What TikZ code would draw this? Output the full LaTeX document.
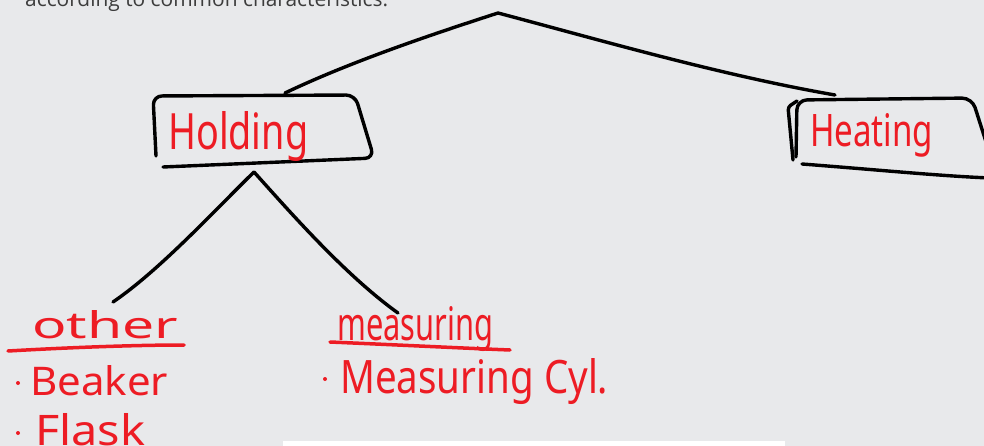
\documentclass[tikz,border=0pt]{standalone}
\usepackage{fontspec}
\usepackage{graphicx}
\setmainfont{Noto Sans}
\newfontfamily\printfont{Open Sans}
\definecolor{ink}{HTML}{ED1C24}
\definecolor{paper}{HTML}{E8E9EB}
\definecolor{printgray}{HTML}{3C3C3C}
% hand-written word: width, height above baseline, text
\newcommand{\hw}[3]{\resizebox{#1pt}{#2pt}{#3}}

\begin{document}
\begin{tikzpicture}[x=1pt,y=-1pt,
  pen/.style={line width=3.4pt, line cap=round, line join=round},
  redpen/.style={pen, draw=ink, line width=3.5pt},
  word/.style={inner sep=0pt, anchor=base west, text=ink}]

\useasboundingbox (0,0) rectangle (984,446);
\fill[paper] (0,0) rectangle (984,446);
\clip (0,0) rectangle (984,446);
\fill[white] (283,441) rectangle (785,446);

% printed caption, cut off at the top
\node[anchor=base west, inner sep=0pt, text=printgray] (caption) at (25,7)
  {\resizebox{363pt}{!}{\printfont according to common characteristics.}};

% tree anchors
\coordinate (root) at (498,13);
\coordinate (holdtop) at (285,93);
\coordinate (heattop) at (835,95);
\coordinate (fork) at (254,172);
\coordinate (othertop) at (113,302);
\coordinate (meastop) at (398,313);

% top branches
\draw[pen] (root) .. controls (430,35) and (350,62) .. (holdtop);
\draw[pen] (root) .. controls (600,40) and (720,75) .. (heattop);

% box round "Holding"
\draw[pen, rounded corners=9pt] (156,156) -- (153,96) -- (355,95) -- (374,158) -- (163,167);

% box round "Heating"
\draw[pen, rounded corners=3pt] (797,101) -- (788,107) -- (793,160);
\draw[pen, rounded corners=10pt] (796,157) -- (797,100) -- (972,98) -- (995,170);
\draw[pen] (802,164) .. controls (880,170) and (940,176) .. (990,178);

% branches below "Holding"
\draw[pen] (fork) .. controls (215,210) and (160,270) .. (othertop);
\draw[pen] (fork) .. controls (290,212) and (345,275) .. (meastop);

% hand-written words
\node[word] (holding) at (168,150) {\hw{140}{38}{Holding}};
\node[word] (heating) at (810,147) {\hw{123}{33}{Heating}};
\node[word] (other) at (32,338) {\hw{146}{28}{other}};
\node[word] (measuring) at (337,340) {\hw{156}{34}{measuring}};
\node[word] (beaker) at (30,395) {\hw{138}{30}{Beaker}};
\node[word] (flask) at (35,445) {\hw{110}{32}{Flask}};
\node[word] (cyl) at (340,393) {\hw{268}{35}{Measuring Cyl.}};

% list bullets
\fill[ink] (18,383) circle (2);
\fill[ink] (18,433) circle (2);
\fill[ink] (325,379) circle (2);

% underlines of the group headings
\draw[redpen] (8,351) .. controls (60,348) and (130,345) .. (184,345);
\draw[redpen] (330,342) .. controls (400,345) and (460,348) .. (510,350);
\end{tikzpicture}
\end{document}
